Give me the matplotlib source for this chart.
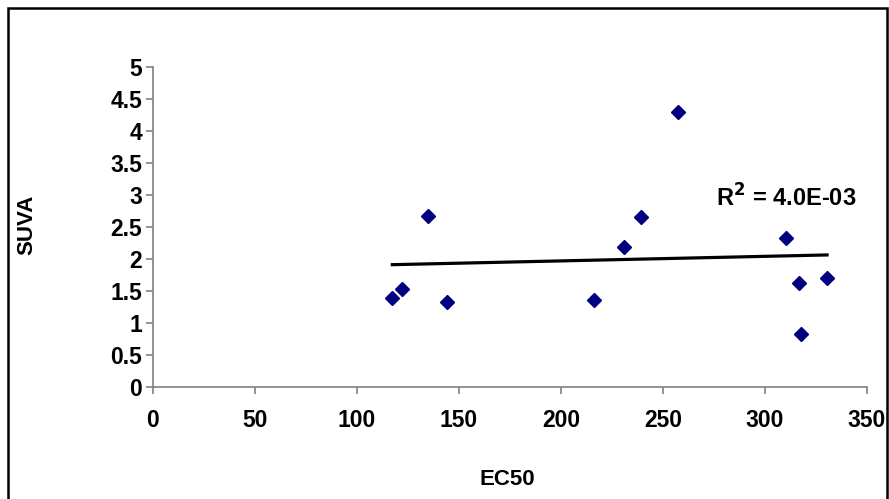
import matplotlib.pyplot as plt
import numpy as np
from matplotlib.patches import Rectangle

plt.rcParams['font.family'] = ['Liberation Sans', 'DejaVu Sans']
plt.rcParams['font.weight'] = 'bold'

# EC50 vs SUVA
ec50 = [117.3, 121.9, 135.0, 144.1, 216.2, 230.7, 239.2, 257.5, 310.1, 316.7, 317.5, 330.4]
suva = [1.38, 1.53, 2.67, 1.32, 1.355, 2.18, 2.65, 4.29, 2.32, 1.62, 0.82, 1.70]
r2_text = 'R$^2$ = 4.0E-03'

fig = plt.figure(figsize=(8.89, 4.99), dpi=100)
ax = fig.add_axes([0.1721, 0.225, 0.8032, 0.6412])

# linear trendline
k, b = np.polyfit(ec50, suva, 1)
xs = np.array([min(ec50), max(ec50)])
ax.plot(xs, k * xs + b, color='black', lw=2.3, zorder=2)

ax.plot(ec50, suva, 'D', color='#000080', ms=7.5, zorder=3)

ax.set_xlim(0, 350)
ax.set_ylim(0, 5)
ax.set_xticks(np.arange(0, 351, 50))
ax.set_yticks(np.arange(0, 5.01, 0.5))
ax.set_yticklabels(['0', '0.5', '1', '1.5', '2', '2.5', '3', '3.5', '4', '4.5', '5'])
for s in ['top', 'right']:
    ax.spines[s].set_visible(False)
for s in ['left', 'bottom']:
    ax.spines[s].set_color('#808080')
    ax.spines[s].set_linewidth(1.2)
ax.tick_params(colors='#808080', labelcolor='black', labelsize=16.5, length=5, width=1.2)
ax.tick_params(axis='x', pad=11)
ax.tick_params(axis='y', pad=3)

ax.text(276, 2.81, r2_text, fontsize=17, fontweight='bold')

fig.text(0.03, 0.55, 'SUVA', rotation=90, fontsize=16, fontweight='bold', ha='center', va='center')
fig.text(0.571, 0.04, 'EC50', fontsize=16, fontweight='bold', ha='center', va='center')

fig.patches.append(Rectangle((0.009, -0.01), 0.989, 0.994, transform=fig.transFigure,
                             fill=False, edgecolor='black', lw=1.8))

fig.savefig('out.png', dpi=100)
